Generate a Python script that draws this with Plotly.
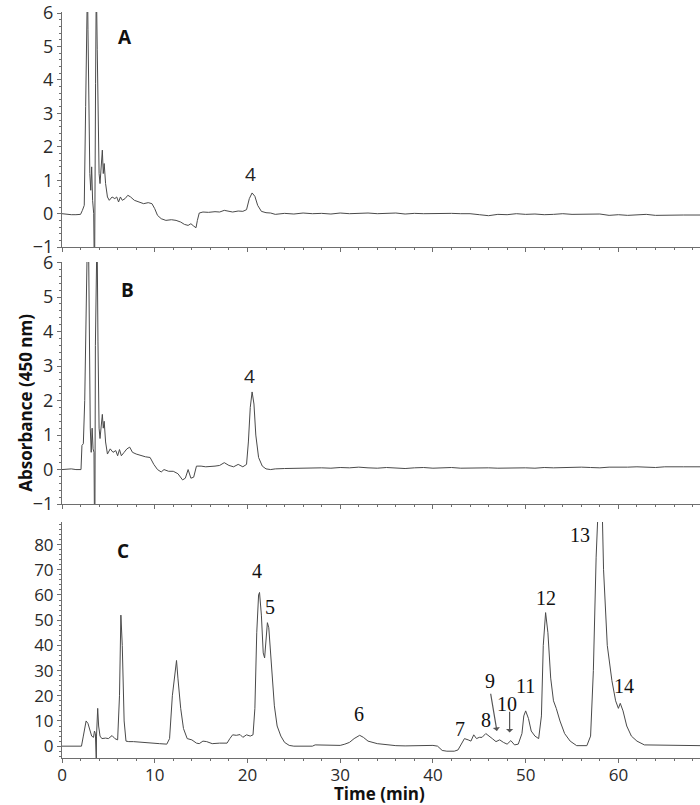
import plotly.graph_objects as go

# ---------------- data ----------------
time_A = [0, 0.5, 1.0, 1.5, 2.0, 2.2, 2.4, 2.55, 2.65, 2.75, 2.8, 2.9, 3.0, 3.1, 3.2, 3.3, 3.42,
          3.48, 3.52, 3.62, 3.7, 3.8, 3.9, 4.0, 4.1, 4.2, 4.35, 4.45, 4.55, 4.7, 4.9, 5.1, 5.4,
          5.7, 5.9, 6.1, 6.3, 6.5, 6.8, 7.1, 7.4, 7.8, 8.3, 8.8, 9.3, 9.7, 10.0, 10.3, 10.7,
          11.2, 11.8, 12.3, 12.8, 13.2, 13.6, 13.9, 14.2, 14.45, 14.6, 14.8, 15.2, 15.8, 16.5,
          17.0, 17.5, 17.9, 18.4, 19.0, 19.5, 19.9, 20.2, 20.5, 20.8, 21.1, 21.5, 22.0, 22.5,
          23, 24, 25, 26, 27, 28, 29, 30, 31, 32, 33, 34, 35, 36, 37, 38, 39, 40, 41, 42, 43,
          44, 45, 46, 47, 48, 49, 50, 51, 52, 53, 54, 55, 56, 57, 58, 59, 60, 61, 62, 63, 64,
          65, 66, 67, 68.8]
abs_A = [0.0, -0.02, -0.03, -0.03, -0.02, 0.1, 0.25, 3.2, 4.7, 7.0, 5.5, 3.0, 1.2, 0.7, 1.4,
         0.4, 0.0, -1.5, -1.5, 3.9, 7.0, 4.9, 2.5, 1.2, 0.9, 1.3, 1.9, 1.2, 1.5, 0.9, 0.5, 0.4,
         0.5, 0.45, 0.5, 0.35, 0.5, 0.4, 0.45, 0.55, 0.5, 0.4, 0.35, 0.3, 0.33, 0.3, 0.15,
         -0.05, -0.15, -0.2, -0.18, -0.2, -0.25, -0.32, -0.35, -0.3, -0.37, -0.42, -0.2, 0.02,
         0.05, 0.04, 0.06, 0.05, 0.1, 0.07, 0.05, 0.08, 0.07, 0.12, 0.45, 0.62, 0.52, 0.25,
         0.07, 0.03, 0.02, -0.02, 0.01, -0.01, 0.02, 0.0, 0.01, -0.01, 0.02, 0.0, 0.01, 0.02,
         0.0, 0.01, 0.02, -0.01, 0.01, 0.0, 0.01, 0.0, 0.01, 0.0, 0.0, -0.03, -0.06, -0.02,
         -0.03, 0.0, -0.02, -0.01, -0.03, -0.02, 0.0, -0.02, -0.02, -0.03, -0.01, -0.05, -0.03,
         -0.05, -0.04, -0.02, -0.05, -0.04, -0.04, -0.04, -0.04]

time_B = [0, 1.0, 1.5, 2.05, 2.15, 2.3, 2.45, 2.55, 2.65, 2.75, 2.85, 2.95, 3.05, 3.15, 3.25,
          3.35, 3.45, 3.5, 3.55, 3.6, 3.68, 3.78, 3.88, 4.0, 4.1, 4.25, 4.35, 4.45, 4.55, 4.7,
          4.9, 5.2, 5.5, 5.8, 6.0, 6.2, 6.4, 6.7, 7.0, 7.3, 7.6, 8.0, 8.5, 9.0, 9.5, 9.9, 10.3,
          10.7, 11.0, 11.5, 12.0, 12.5, 13.0, 13.3, 13.6, 13.9, 14.2, 14.5, 15.0, 15.5, 16.5,
          17.0, 17.5, 18.0, 18.5, 19.0, 19.5, 19.9, 20.1, 20.3, 20.5, 20.7, 20.9, 21.2, 21.6,
          22.0, 22.5, 23, 24, 25, 26, 27, 28, 29, 30, 31, 32, 33, 34, 35, 36, 37, 38, 39, 40,
          41, 42, 43, 44, 45, 46, 47, 48, 49, 50, 51, 52, 53, 54, 55, 56, 57, 58, 59, 60, 61,
          62, 63, 64, 65, 66, 67, 68.8]
abs_B = [0.0, 0.02, 0.0, 0.0, 0.7, 0.75, 2.0, 3.7, 5.0, 7.0, 7.0, 3.7, 1.2, 0.5, 1.2, 0.6, 0.5,
         -1.5, -1.5, 3.6, 7.0, 7.0, 3.7, 1.2, 0.9, 1.3, 1.6, 1.2, 1.4, 0.8, 0.45, 0.6, 0.5,
         0.55, 0.4, 0.58, 0.4, 0.5, 0.6, 0.65, 0.5, 0.45, 0.4, 0.37, 0.35, 0.15, 0.0, -0.07,
         0.0, -0.05, -0.05, -0.12, -0.3, -0.25, 0.0, -0.25, -0.22, 0.1, 0.1, 0.08, 0.1, 0.12,
         0.2, 0.12, 0.08, 0.15, 0.08, 0.15, 0.8, 1.8, 2.25, 1.9, 1.0, 0.35, 0.1, 0.02, 0.0,
         0.02, 0.03, 0.04, 0.05, 0.04, 0.05, 0.04, 0.06, 0.05, 0.07, 0.05, 0.04, 0.06, 0.05,
         0.03, 0.05, 0.06, 0.04, 0.05, 0.06, 0.04, 0.05, 0.06, 0.05, 0.04, 0.05, 0.06, 0.05,
         0.04, 0.06, 0.05, 0.06, 0.05, 0.07, 0.06, 0.05, 0.07, 0.06, 0.07, 0.08, 0.07, 0.06,
         0.08, 0.07, 0.08, 0.08]

time_C = [0, 1, 2.1, 2.3, 2.5, 2.6, 2.8, 3.0, 3.2, 3.4, 3.5, 3.6, 3.65, 3.7, 3.72, 3.85, 3.95,
          4.1, 4.3, 4.7, 5.0, 5.2, 5.4, 5.7, 6.0, 6.2, 6.35, 6.5, 6.7, 6.9, 7.2, 7.7, 8.5, 9.5,
          10.5, 11.3, 11.6, 11.9, 12.2, 12.35, 12.5, 12.8, 13.1, 13.5, 14.0, 14.5, 14.8, 15.2,
          15.6, 16.2, 17.0, 17.8, 18.1, 18.4, 18.8, 19.2, 19.5, 19.9, 20.3, 20.6, 20.8, 21.0,
          21.2, 21.3, 21.5, 21.7, 21.85, 22.0, 22.15, 22.3, 22.6, 22.9, 23.2, 23.6, 24.0, 24.5,
          25.0, 27.0, 27.3, 28.5, 29.0, 30.0, 30.5, 31.0, 31.5, 32.1, 32.5, 33.0, 34.0, 35, 36,
          37, 38, 39, 40, 40.5, 41.0, 41.5, 42.3, 42.7, 43.0, 43.4, 43.8, 44.1, 44.4, 44.7, 45.0,
          45.3, 45.7, 46.0, 46.4, 46.8, 47.2, 47.6, 48.0, 48.4, 48.8, 49.2, 49.6, 49.8, 50.0,
          50.3, 50.6, 51.0, 51.4, 51.7, 51.9, 52.15, 52.4, 52.7, 53.0, 53.3, 53.7, 54.2, 54.8,
          55.5, 56.6, 57.0, 57.3, 57.6, 57.8, 58.1, 58.4, 58.8, 59.3, 59.7, 60.0, 60.2, 60.5,
          60.9, 61.4, 62.0, 62.8, 65, 68.8]
abs_C = [0, 0, 0, 4, 8.5, 10, 9, 6, 4, 3.5, 6, 5, -6, -6, 4, 15, 8, 4, 3, 3.2, 3, 3.5, 4.2, 3,
         2.5, 20, 52, 40, 10, 2, 1.8, 1.8, 1.5, 1.2, 1.0, 0.8, 3, 20, 30, 34, 27, 15, 7, 3, 2.5,
         1.2, 1.0, 2.0, 1.8, 1.0, 1.2, 1.2, 3, 4.5, 4.3, 4.6, 3.5, 4.5, 4, 4.5, 15, 45, 60, 61,
         52, 37, 35, 42, 49, 47, 30, 16, 8, 4, 1.5, 0.3, 0, 0, 0.5, 0.5, 0.4, 0.3, 0.8, 1.5, 3,
         4.3, 3.5, 2.0, 1.0, 0.5, 0.2, 0.1, 0.1, 0.3, 0.3, 0, -1.7, -2.0, -2.0, -1.5, 0.5, 3,
         2.5, 2, 4.5, 3, 3.5, 3.5, 5, 4, 3, 1.8, 2.5, 1.5, 0.8, 2.2, 0.5, 0.8, 5, 12, 14, 11, 6,
         4, 3, 12, 40, 53, 45, 27, 18, 15, 10, 5, 2, 0.2, 0.2, 4, 30, 75, 120, 120, 70, 40, 26,
         18, 15, 17, 14, 8, 4, 2, 0.5, 0.3, 0.2]

# peak labels for panel C
peak_labels_C = ["4", "5", "6", "7", "8", "11", "12", "13", "14"]
peak_label_t_C = [21.0, 22.4, 32.0, 42.9, 45.75, 50.0, 52.2, 55.9, 60.6]
peak_label_y_C = [69.5, 55.2, 12.9, 7.0, 10.2, 24.0, 58.6, 83.8, 24.0]

y_ticks_AB = [-1, 0, 1, 2, 3, 4, 5, 6]
y_ticks_C = [0, 10, 20, 30, 40, 50, 60, 70, 80]
x_ticks = [0, 10, 20, 30, 40, 50, 60]

# ---------------- figure ----------------
LINE = "#4a4a4a"
AXIS = "#6e6e6e"
TICKFONT_AB = dict(family="Open Sans", size=18, color="#2a2a2a")
TICKFONT_C = dict(family="Open Sans", size=17, color="#2a2a2a")

fig = go.Figure()
fig.add_trace(go.Scatter(x=time_A, y=abs_A, mode="lines", line=dict(color=LINE, width=1),
                         xaxis="x", yaxis="y", showlegend=False))
fig.add_trace(go.Scatter(x=time_B, y=abs_B, mode="lines", line=dict(color=LINE, width=1),
                         xaxis="x2", yaxis="y2", showlegend=False))
fig.add_trace(go.Scatter(x=time_C, y=abs_C, mode="lines", line=dict(color=LINE, width=1),
                         xaxis="x3", yaxis="y3", showlegend=False))

def xax(anchor, labels):
    return dict(anchor=anchor, domain=[0, 1], range=[0, 68.8], showline=True,
                linecolor=AXIS, linewidth=1, ticks="outside", ticklen=4, tickcolor=AXIS,
                tickvals=x_ticks, showticklabels=labels, tickfont=TICKFONT_C,
                showgrid=False, zeroline=False, ticklabelstandoff=-2,
                minor=dict(dtick=2, ticks="outside", ticklen=2, tickcolor=AXIS))

def yax(anchor, dom, rng, vals, mdt, font):
    return dict(anchor=anchor, domain=dom, range=rng, showline=True, linecolor=AXIS,
                linewidth=1, ticks="outside", ticklen=4, tickcolor=AXIS, tickvals=vals,
                tickfont=font, showgrid=False, zeroline=False, ticklabelstandoff=0,
                ticklabeloverflow="allow",
                minor=dict(dtick=mdt, ticks="outside", ticklen=2, tickcolor=AXIS))

fig.update_layout(
    width=700, height=805,
    margin=dict(l=62, r=0, t=6, b=47),
    plot_bgcolor="white", paper_bgcolor="white",
    xaxis=xax("y", False), yaxis=yax("x", [0.6848, 1.0], [-1, 6.03], y_ticks_AB, 0.2, TICKFONT_AB),
    xaxis2=xax("y2", False), yaxis2=yax("x2", [0.3404, 0.665], [-1, 6.02], y_ticks_AB, 0.2, TICKFONT_AB),
    xaxis3=xax("y3", True), yaxis3=yax("x3", [0, 0.3165], [-4.7, 89], y_ticks_C, 2, TICKFONT_C),
)

ann = []
bold = dict(family="Open Sans", size=19, color="#111111")
ann.append(dict(text="<b>A</b>", x=6.8, y=5.28, xref="x", yref="y", showarrow=False, font=bold))
ann.append(dict(text="<b>B</b>", x=7.1, y=5.2, xref="x2", yref="y2", showarrow=False, font=bold))
ann.append(dict(text="<b>C</b>", x=6.6, y=77.6, xref="x3", yref="y3", showarrow=False, font=bold))
sans_lbl = dict(family="Open Sans", size=19, color="#222222")
ann.append(dict(text="4", x=20.3, y=1.2, xref="x", yref="y", showarrow=False, font=sans_lbl))
ann.append(dict(text="4", x=20.2, y=2.7, xref="x2", yref="y2", showarrow=False, font=sans_lbl))
serif = dict(family="Liberation Serif", size=20, color="#111111")
for s, t, v in zip(peak_labels_C, peak_label_t_C, peak_label_y_C):
    ann.append(dict(text=s, x=t, y=v, xref="x3", yref="y3", showarrow=False, font=serif))
# labels 9 and 10 with arrows
ann.append(dict(text="9", x=46.1, y=26, xref="x3", yref="y3", showarrow=False, font=serif))
ann.append(dict(text="10", x=48.0, y=16.8, xref="x3", yref="y3", showarrow=False, font=serif))
ann.append(dict(text="", x=46.9, y=6.0, ax=46.2, ay=21.4, xref="x3", yref="y3",
                axref="x3", ayref="y3", showarrow=True, arrowhead=1, arrowsize=1,
                arrowwidth=1.2, arrowcolor="#555555"))
ann.append(dict(text="", x=48.27, y=5.4, ax=48.27, ay=14.2, xref="x3", yref="y3",
                axref="x3", ayref="y3", showarrow=True, arrowhead=1, arrowsize=1,
                arrowwidth=1.2, arrowcolor="#555555"))
# axis titles
ann.append(dict(text="<b>Absorbance (450 nm)</b>", x=-0.078, y=0.476, xref="paper",
                yref="paper", textangle=-90, showarrow=False,
                font=dict(family="Open Sans", size=17, color="#111111")))
ann.append(dict(text="<b>Time (min)</b>", x=0.498, y=-0.0475, xref="paper", yref="paper",
                showarrow=False, yanchor="middle",
                font=dict(family="Open Sans", size=17, color="#111111")))
fig.update_layout(annotations=ann)

fig.write_html("out.html", config={"displayModeBar": False},
               post_script="document.body.style.margin='0';document.body.style.overflow='hidden';")
